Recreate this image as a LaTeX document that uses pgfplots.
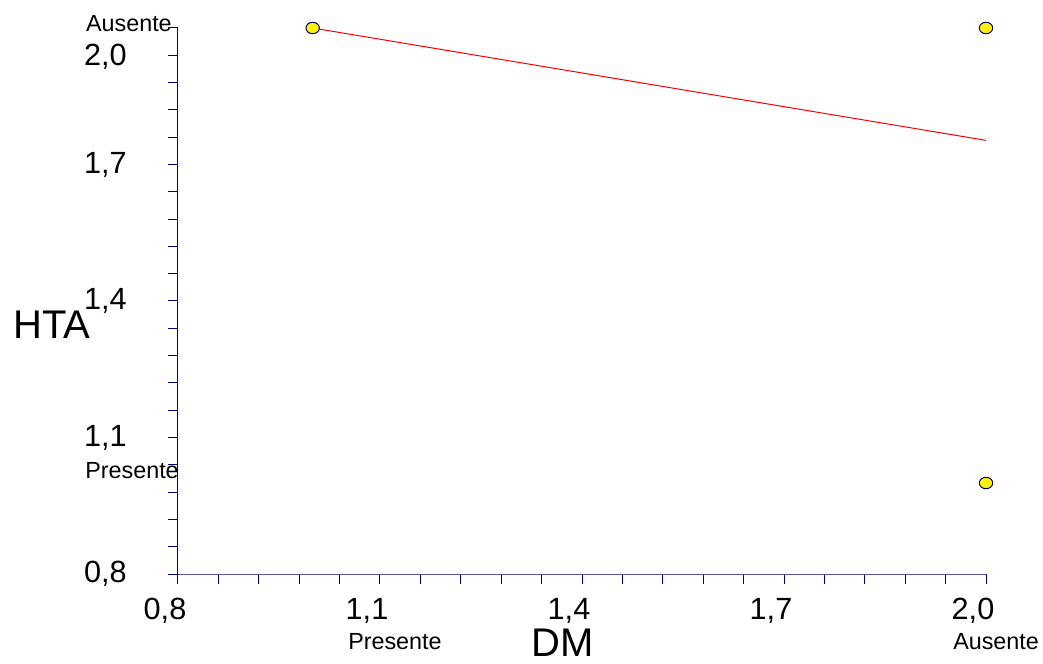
\documentclass[border=0pt]{standalone}
\usepackage{fontspec}
\setmainfont{Liberation Sans}
\usepackage{pgfplots}
\pgfplotsset{compat=1.18}
\definecolor{navyb}{RGB}{0,0,128}
\begin{document}
\begin{tikzpicture}
\path[use as bounding box] (-133.5pt,-67.5pt) rectangle (648.75pt,430.5pt);
\begin{axis}[
  at={(0pt,0pt)}, anchor=south west,
  scale only axis, width=606pt, height=409.5pt,
  xmin=0.8, xmax=2.0, ymin=0.8, ymax=2.0,
  axis lines*=left,
  clip=false,
  xtick={0.8,1.1,1.4,1.7,2.0}, ytick={0.8,1.1,1.4,1.7,2.0},
  minor tick num=4,
  tick align=outside,
  major tick length=7.5pt, minor tick length=7.5pt,
  tick style={navyb, line width=0.75pt},
  x axis line style={navyb!65, line width=0.75pt},
  y axis line style={navyb, line width=0.75pt},
  xticklabels={{0,8},{1,1},{1,4},{1,7},{2,0}},
  yticklabels={{0,8},{1,1},{1,4},{1,7},{}},
  ticklabel style={font=\fontsize{23}{23}\selectfont, inner sep=0pt},
  xticklabel style={anchor=north, xshift=-9.75pt, yshift=-10.5pt},
  yticklabel style={anchor=east, xshift=-30.75pt},
  xlabel={DM}, ylabel={HTA},
  xlabel style={at={(rel axis cs:0.4765,-0.1255)}, anchor=center, inner sep=0pt, font=\fontsize{30}{30}\selectfont},
  ylabel style={at={(rel axis cs:-0.156,0.456)}, anchor=center, rotate=-90, inner sep=0pt, font=\fontsize{30}{30}\selectfont},
]
\addplot[only marks, mark=*, mark size=4.3pt, mark options={fill=yellow, draw=navyb, line width=0.75pt, xscale=1.17}]
  coordinates {(1.0,2.0) (2.0,2.0) (2.0,1.0)};
\addplot[red, line width=0.75pt] coordinates {(1.0,2.0) (2.0,1.753)};
\end{axis}
\node[anchor=east, inner sep=0pt, font=\fontsize{23}{23}\selectfont] at (-38.25pt,387.75pt) {2,0};
\node[anchor=east, inner sep=0pt, font=\fontsize{17.5}{17.5}\selectfont] at (-4.5pt,412.5pt) {Ausente};
\node[anchor=east, inner sep=0pt, font=\fontsize{17.5}{17.5}\selectfont] at (0.75pt,77.25pt) {Presente};
\node[anchor=west, inner sep=0pt, font=\fontsize{17.5}{17.5}\selectfont] at (127.5pt,-51pt) {Presente};
\node[anchor=west, inner sep=0pt, font=\fontsize{17.5}{17.5}\selectfont] at (581.25pt,-51pt) {Ausente};
\end{tikzpicture}
\end{document}
